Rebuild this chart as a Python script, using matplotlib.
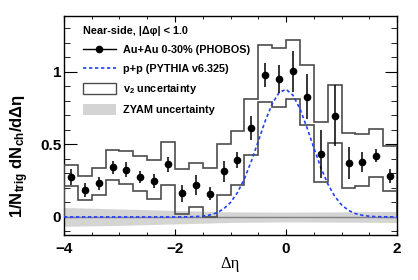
import numpy as np
import matplotlib
matplotlib.use('Agg')
import matplotlib.pyplot as plt
from matplotlib.lines import Line2D
from matplotlib.patches import Patch
from matplotlib.ticker import MultipleLocator, FormatStrFormatter

plt.rcParams['font.family'] = ['Liberation Sans', 'DejaVu Sans']
plt.rcParams['font.weight'] = 'bold'
plt.rcParams['axes.labelweight'] = 'bold'
plt.rcParams['mathtext.default'] = 'regular'

# PHOBOS Au+Au 0-30% near-side points
deta = [-3.875, -3.625, -3.375, -3.125, -2.875, -2.625, -2.375, -2.125,
        -1.875, -1.625, -1.375, -1.125, -0.875, -0.625, -0.375, -0.125,
        0.125, 0.375, 0.625, 0.875, 1.125, 1.375, 1.625, 1.875]
yield_auau = [0.276, 0.186, 0.232, 0.343, 0.326, 0.276, 0.248, 0.363,
              0.163, 0.221, 0.161, 0.315, 0.393, 0.614, 0.979, 0.950,
              1.005, 0.830, 0.434, 0.699, 0.372, 0.381, 0.421, 0.283]
err_auau = [0.054, 0.050, 0.046, 0.045, 0.050, 0.042, 0.050, 0.052,
            0.057, 0.070, 0.044, 0.071, 0.054, 0.080, 0.086, 0.098,
            0.140, 0.155, 0.167, 0.210, 0.110, 0.070, 0.045, 0.048]

# v2 systematic band (bin edges every 0.25)
bin_edges = np.arange(-4.0, 2.01, 0.25)
v2_upper = [0.360, 0.283, 0.338, 0.462, 0.452, 0.420, 0.395, 0.515,
            0.330, 0.370, 0.335, 0.500, 0.590, 0.814, 1.186, 1.163,
            1.221, 1.048, 0.657, 0.910, 0.577, 0.570, 0.605, 0.490]
v2_lower = [0.214, 0.120, 0.154, 0.252, 0.225, 0.180, 0.125, 0.221,
            0.020, 0.067, 0.000, 0.148, 0.218, 0.430, 0.790, 0.756,
            0.814, 0.634, 0.243, 0.510, 0.198, 0.212, 0.274, 0.180]

# PYTHIA p+p curve
pythia_x = [-4.0, -2.0, -1.75, -1.625, -1.5, -1.375, -1.25, -1.125, -1.0,
            -0.875, -0.75, -0.625, -0.5, -0.375, -0.25, -0.125, 0.0, 0.125,
            0.25, 0.375, 0.5, 0.625, 0.75, 0.875, 1.0, 1.125, 1.25, 1.375,
            1.5, 1.625, 1.75, 2.0]
pythia_y = [0.0, 0.0, 0.001, 0.003, 0.006, 0.013, 0.028, 0.055, 0.100,
            0.168, 0.263, 0.385, 0.523, 0.662, 0.780, 0.858, 0.880, 0.839,
            0.746, 0.618, 0.477, 0.342, 0.229, 0.143, 0.083, 0.045, 0.023,
            0.011, 0.005, 0.002, 0.001, 0.0]

# ZYAM uncertainty band
zyam_x = [-4, -3, -2, -1, 0, 1, 2]
zyam_hi = [0.065, 0.055, 0.045, 0.035, 0.033, 0.035, 0.038]
zyam_lo = [-0.065, -0.058, -0.048, -0.038, -0.034, -0.036, -0.038]

step_col = '#4d4d4d'
band_col = '#d4d4d4'
blue = '#2040ff'

fig = plt.figure(figsize=(4.18, 2.8), dpi=100)
ax = fig.add_axes([0.153, 0.161, 0.797, 0.782])

ax.fill_between(zyam_x, zyam_lo, zyam_hi, color=band_col, lw=0, zorder=1)
ax.axhline(0, color='#808080', lw=1.0, zorder=2)
ax.stairs(v2_upper, bin_edges, color=step_col, lw=1.2, zorder=3)
ax.stairs(v2_lower, bin_edges, color=step_col, lw=1.2, zorder=3)
ax.plot(pythia_x, pythia_y, color=blue, lw=1.2, ls=(0, (2, 1.6)), zorder=4)
ax.errorbar(deta, yield_auau, yerr=err_auau, fmt='o', color='k', ms=4.5,
            elinewidth=1.1, capsize=0, zorder=5)

ax.set_xlim(-4, 2)
ax.set_ylim(-0.124, 1.386)
ax.xaxis.set_major_locator(MultipleLocator(2))
ax.xaxis.set_minor_locator(MultipleLocator(0.5))
ax.yaxis.set_major_locator(MultipleLocator(0.5))
ax.yaxis.set_minor_locator(MultipleLocator(0.1))
ax.yaxis.set_major_formatter(FormatStrFormatter('%g'))
ax.tick_params(which='both', direction='in', top=True, right=True, labelsize=11)
ax.tick_params(axis='x', which='major', length=4.3, pad=5)
ax.tick_params(axis='x', which='minor', length=2.2)
ax.tick_params(axis='y', which='major', length=9, pad=2)
ax.tick_params(axis='y', which='minor', length=4.5)
for s in ax.spines.values():
    s.set_linewidth(1.0)

ax.set_xlabel('Δη', family='Liberation Serif', fontweight='normal', fontsize=12)
ax.xaxis.set_label_coords(0.5, -0.097)
ax.set_ylabel('1/N$_{trig}$ dN$_{ch}$/dΔη', fontsize=12, fontweight='bold')
ax.yaxis.set_label_coords(-0.10, 0.36)

handles = [
    Line2D([], [], color='k', marker='o', ms=4.5, lw=1.0),
    Line2D([], [], color=blue, lw=1.2, ls=(0, (2, 1.6))),
    Patch(facecolor='white', edgecolor=step_col, lw=1.0),
    Patch(facecolor=band_col, edgecolor='none'),
]
labels = ['Au+Au 0-30% (PHOBOS)', 'p+p (PYTHIA v6.325)',
          'v$_2$ uncertainty', 'ZYAM uncertainty']
leg = ax.legend(handles, labels, loc='upper left', bbox_to_anchor=(0.048, 0.97),
                frameon=False, fontsize=7.8, title='Near-side, |Δφ| < 1.0',
                title_fontproperties={'size': 7.8, 'weight': 'bold'},
                alignment='left', handlelength=3.0, handleheight=1.2,
                handletextpad=0.7, labelspacing=0.72, borderaxespad=0,
                borderpad=0.3)
leg._legend_box.sep = 6

fig.savefig('out.png', dpi=100)
